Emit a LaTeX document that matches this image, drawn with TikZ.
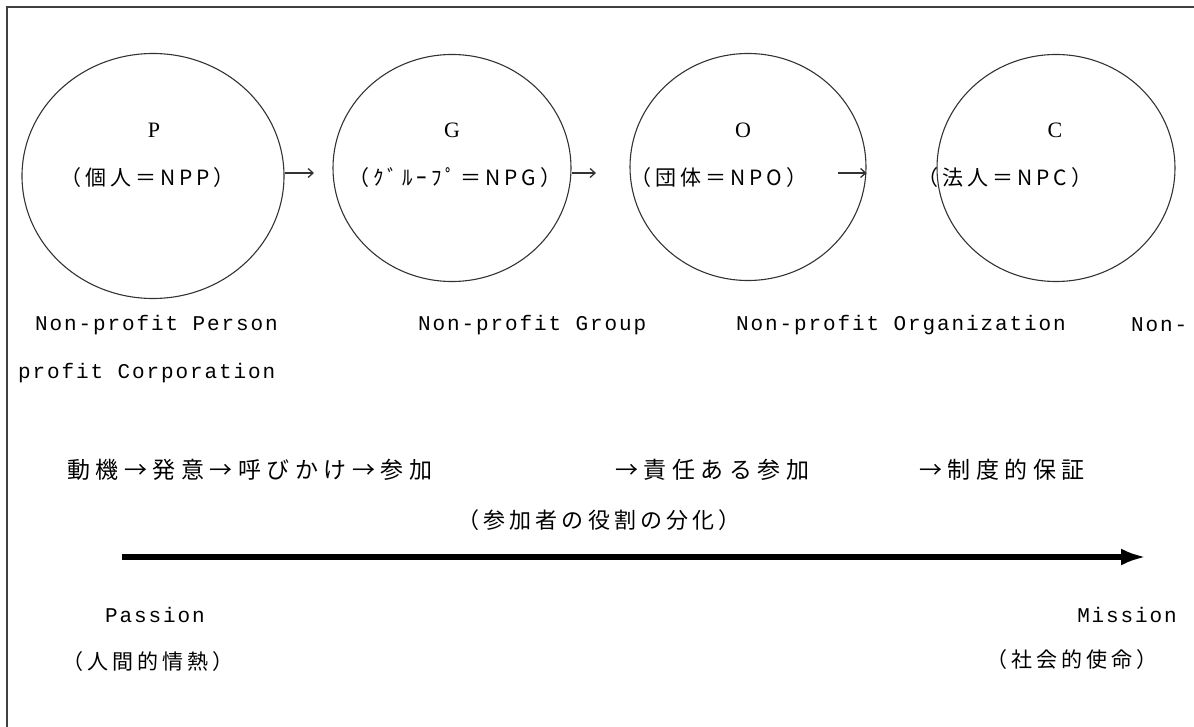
\documentclass[tikz,border=0pt]{standalone}
\usepackage{fontspec}
\setmainfont{Liberation Serif}
\newfontfamily\cjk[LetterSpace=19]{Noto Sans CJK JP}
\newfontfamily\cjkwide[LetterSpace=24]{Noto Sans CJK JP}
\newfontfamily\mono[LetterSpace=9]{Liberation Mono}
\usetikzlibrary{arrows.meta,shapes.geometric}
\begin{document}
\begin{tikzpicture}[x=1pt,y=-1pt,
  stage/.style={draw=black!80, line width=1.1pt, ellipse, inner sep=0pt},
  letter/.style={font=\fontsize{22}{22}\selectfont, inner sep=0pt},
  jp/.style={font=\cjk\fontsize{21}{21}\selectfont, anchor=west, inner sep=0pt},
  jpm/.style={font=\cjk\fontsize{22}{22}\selectfont, anchor=west, inner sep=0pt},
  jpw/.style={font=\cjkwide\fontsize{23}{23}\selectfont, anchor=west, inner sep=0pt},
  en/.style={font=\mono\fontsize{21}{21}\selectfont, anchor=west, inner sep=0pt},
  smallarrow/.style={-{Straight Barb[length=5pt,width=9pt]}, line width=1.3pt, draw=black!80},
  flow/.style={line width=6pt, -{Latex[length=25pt,width=17pt]}},
]
\useasboundingbox (0,0) rectangle (1194,727);
% frame
\coordinate (tl) at (7,7);
\coordinate (tr) at (1194,7);
\coordinate (bl) at (7,727);
\draw[line width=2pt, black!75] (tr) -- (tl) -- (bl);

% stages
\node[stage, minimum width=262pt, minimum height=245pt] (P) at (153,176) {};
\node[stage, minimum width=238pt, minimum height=227pt] (G) at (452,168) {};
\node[stage, minimum width=236pt, minimum height=227pt] (O) at (748,167) {};
\node[stage, minimum width=238pt, minimum height=227pt] (C) at (1056,168) {};

\node[letter] (Pl) at (154,130) {P};
\node[letter] (Gl) at (452,130) {G};
\node[letter] (Ol) at (743,130) {O};
\node[letter] (Cl) at (1055,130) {C};

\node[jp] (Pt) at (60,178) {（個人＝NPP）};
\node[jp] (Gt) at (348,178) {（ｸﾞﾙｰﾌﾟ＝NPG）};
\node[jp] (Ot) at (630,178) {（団体＝NPO）};
\node[jp] (Ct) at (917,178) {（法人＝NPC）};

% small arrows between stages
\coordinate (pa) at (314,173);
\coordinate (ga) at (596,173);
\coordinate (oa) at (838,173);
\draw[smallarrow] (P.east |- pa) -- (pa);
\draw[smallarrow] (G.east |- ga) -- (ga);
\draw[smallarrow] (oa) -- (O.east |- oa);

% English names
\node[en] (Pe) at (35,325) {Non-profit Person};
\node[en] (Ge) at (418,325) {Non-profit Group};
\node[en] (Oe) at (736,325) {Non-profit Organization};
\node[en] (Ce) at (1131,325) {Non-};
\node[en] (Ce2) at (18,373) {profit Corporation};

% process
\node[jpw] (s1) at (67,470) {動機→発意→呼びかけ→参加};
\node[jpw] (s2) at (615,470) {→責任ある参加};
\node[jpw] (s3) at (919,470) {→制度的保証};
\node[jpm] (s4) at (457,520) {（参加者の役割の分化）};

% main arrow
\coordinate (fs) at (122,557);
\coordinate (fe) at (1146,557);
\draw[flow] (fs) -- (fe);

\node[en] (pas) at (105,615) {Passion};
\node[en, anchor=east] (mis) at (1177,615) {Mission};
\node[jp] (pasj) at (62,662) {（人間的情熱）};
\node[jp] (misj) at (986,660) {（社会的使命）};
\end{tikzpicture}
\end{document}
